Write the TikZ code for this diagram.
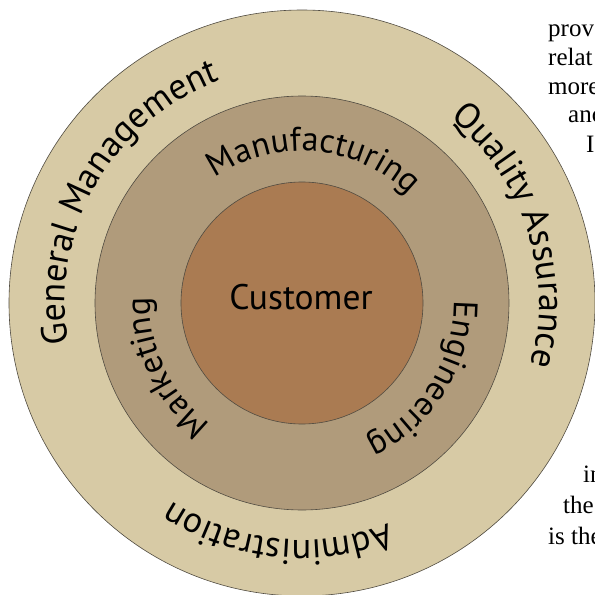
\documentclass[tikz,border=0pt]{standalone}
\usepackage{fontspec}
\setmainfont{Liberation Serif}
\newfontfamily\ringfont{PT Sans}
\usetikzlibrary{decorations.text}
\definecolor{outerc}{RGB}{215,202,165}
\definecolor{midc}{RGB}{176,155,123}
\definecolor{innerc}{RGB}{170,123,82}
\definecolor{edgec}{RGB}{80,75,65}
\tikzset{
  ring/.style={draw=edgec, line width=0.6pt},
  ringtext/.style 2 args={decorate, decoration={text along path, text align=center, text={|#1|#2}}},
  pagetext/.style={anchor=base west, inner sep=0pt, font=\fontsize{25}{29}\selectfont}
}
\newcommand{\outerfmt}{\ringfont\fontsize{36}{42}\selectfont}
\newcommand{\midfmt}{\ringfont\fontsize{34}{40}\selectfont}
\begin{document}
\begin{tikzpicture}
\useasboundingbox (-302pt,-292pt) rectangle (293pt,303pt);
% rings
\draw[ring, fill=outerc] (0,0) circle[radius=293pt];
\draw[ring, fill=midc] (0,0) circle[radius=207pt];
\draw[ring, fill=innerc] (0,0) circle[radius=121pt];
% outer ring labels
\path[ringtext={\outerfmt}{General Management}] (220:237pt) arc[start angle=220, end angle=80, radius=237pt];
\path[ringtext={\outerfmt}{Quality Assurance}] (88:237pt) arc[start angle=88, end angle=-52, radius=237pt];
\path[ringtext={\outerfmt}{Administration}] (-26:237pt) arc[start angle=-26, end angle=-166, radius=237pt];
% middle ring labels
\path[ringtext={\midfmt}{Manufacturing}] (155:152pt) arc[start angle=155, end angle=15, radius=152pt];
\path[ringtext={\midfmt}{Engineering}] (38:152pt) arc[start angle=38, end angle=-102, radius=152pt];
\path[ringtext={\midfmt}{Marketing}] (275.5:152pt) arc[start angle=275.5, end angle=135.5, radius=152pt];
% centre
\node[font=\ringfont\fontsize{35.5}{42}\selectfont, inner sep=0pt] (cust) at (-1pt,6pt) {Customer};
% surrounding page text
\node[pagetext] (t1) at (246pt,266pt) {prov};
\node[pagetext] (t2) at (246pt,237pt) {relat};
\node[pagetext] (t3) at (246pt,208pt) {more};
\node[pagetext] (t4) at (266pt,180pt) {anc};
\node[pagetext] (t5) at (284pt,151pt) {I};
\node[pagetext] (t6) at (281pt,-179pt) {in};
\node[pagetext] (t7) at (261pt,-210pt) {the};
\node[pagetext] (t8) at (246pt,-241pt) {is the};
\end{tikzpicture}
\end{document}
